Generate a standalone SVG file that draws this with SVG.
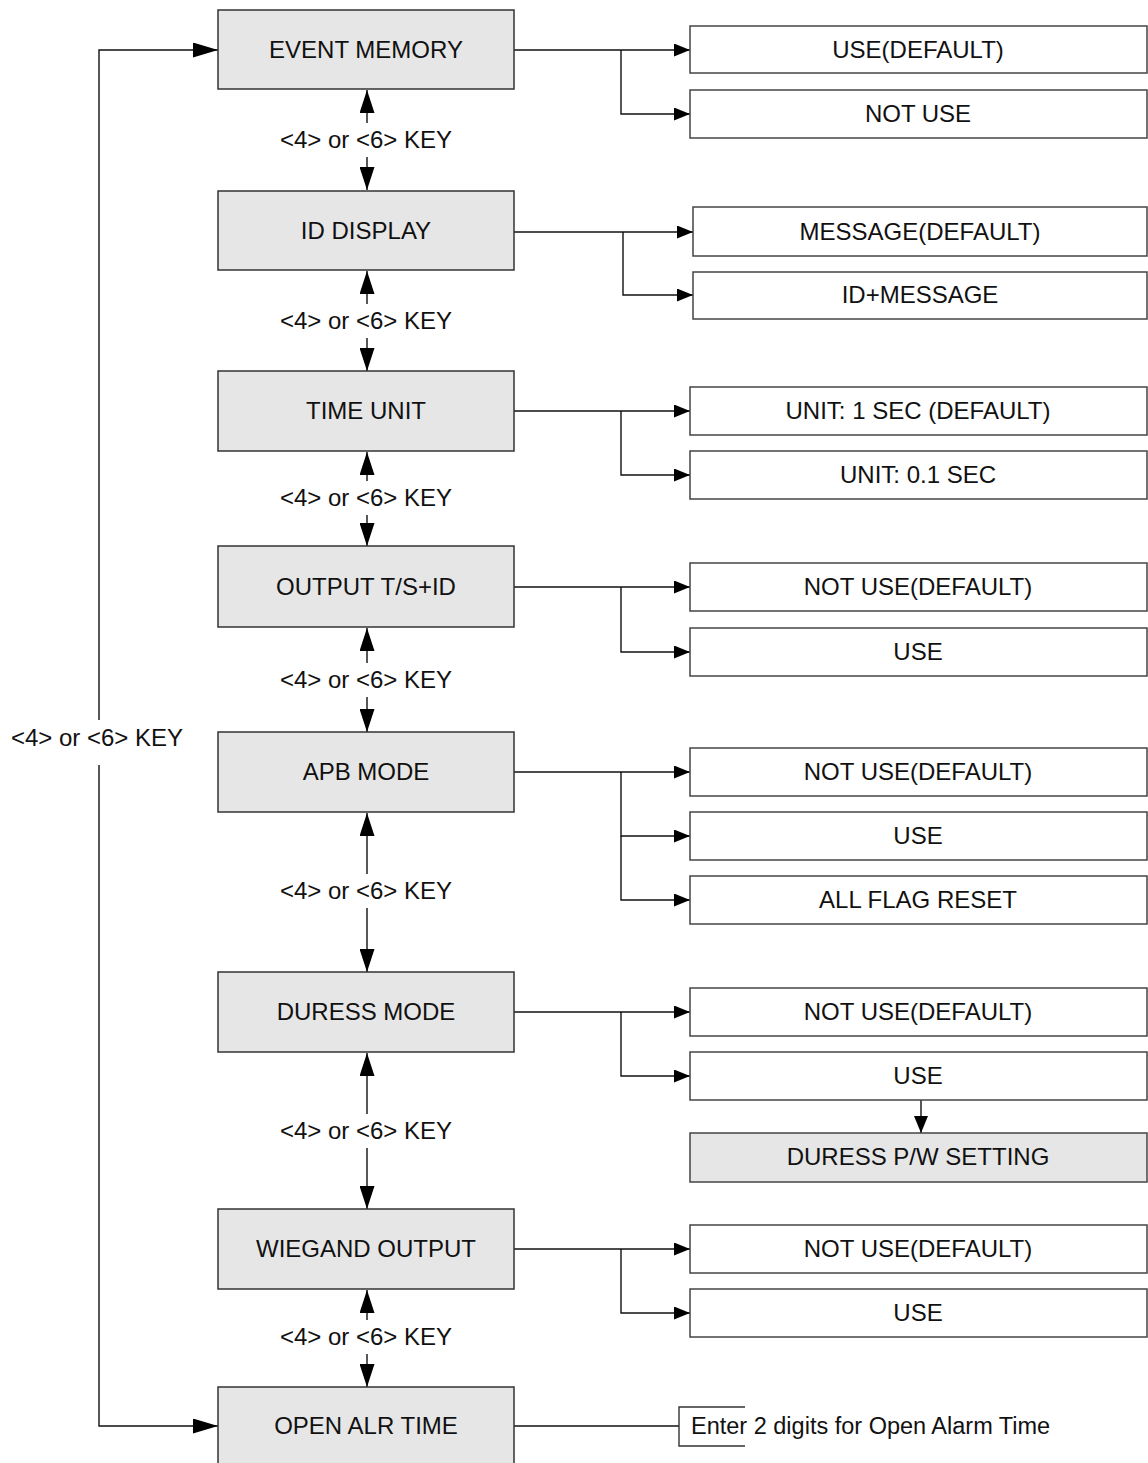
<svg xmlns="http://www.w3.org/2000/svg" width="1148" height="1463" viewBox="0 0 1148 1463">
<style>
text{font-family:"Liberation Sans",Arial,sans-serif;font-size:24px;fill:#111;text-anchor:middle}
.main{fill:#e6e6e6;stroke:#333;stroke-width:1.5}
.opt{fill:#fff;stroke:#444;stroke-width:1.5}
.gray{fill:#e6e6e6;stroke:#444;stroke-width:1.5}
.ln{fill:none;stroke:#111;stroke-width:1.4}
</style>
<defs>
<marker id="ah" viewBox="0 0 16 13" refX="16" refY="6.5" markerWidth="16" markerHeight="13" markerUnits="userSpaceOnUse" orient="auto"><path d="M0,0 L16,6.5 L0,13 Z" fill="#000"/></marker>
<marker id="ahv" viewBox="0 0 23 15" refX="23" refY="7.5" markerWidth="23" markerHeight="15" markerUnits="userSpaceOnUse" orient="auto"><path d="M0,0 L23,7.5 L0,15 Z" fill="#000"/></marker>
<marker id="ahs" viewBox="0 0 17 14" refX="17" refY="7" markerWidth="17" markerHeight="14" markerUnits="userSpaceOnUse" orient="auto"><path d="M0,0 L17,7 L0,14 Z" fill="#000"/></marker>
<marker id="ahl" viewBox="0 0 25 15" refX="25" refY="7.5" markerWidth="25" markerHeight="15" markerUnits="userSpaceOnUse" orient="auto"><path d="M0,0 L25,7.5 L0,15 Z" fill="#000"/></marker>
</defs>
<rect width="1148" height="1463" fill="#fff"/>

<g id="connectors">
<!-- loop on left -->
<path class="ln" d="M99,720 V50 H218" marker-end="url(#ahl)"/>
<path class="ln" d="M99,765 V1426 H218" marker-end="url(#ahl)"/>
<text x="97" y="746">&lt;4&gt; or &lt;6&gt; KEY</text>

<!-- vertical key arrows -->
<g>
<path class="ln" d="M367,123 V90" marker-end="url(#ahv)"/>
<path class="ln" d="M367,157 V190" marker-end="url(#ahv)"/>
<text x="366" y="148">&lt;4&gt; or &lt;6&gt; KEY</text>
<path class="ln" d="M367,304 V271" marker-end="url(#ahv)"/>
<path class="ln" d="M367,338 V371" marker-end="url(#ahv)"/>
<text x="366" y="329">&lt;4&gt; or &lt;6&gt; KEY</text>
<path class="ln" d="M367,481 V452" marker-end="url(#ahv)"/>
<path class="ln" d="M367,515 V546" marker-end="url(#ahv)"/>
<text x="366" y="506">&lt;4&gt; or &lt;6&gt; KEY</text>
<path class="ln" d="M367,663 V628" marker-end="url(#ahv)"/>
<path class="ln" d="M367,697 V732" marker-end="url(#ahv)"/>
<text x="366" y="688">&lt;4&gt; or &lt;6&gt; KEY</text>
<path class="ln" d="M367,874 V813" marker-end="url(#ahv)"/>
<path class="ln" d="M367,908 V972" marker-end="url(#ahv)"/>
<text x="366" y="899">&lt;4&gt; or &lt;6&gt; KEY</text>
<path class="ln" d="M367,1114 V1053" marker-end="url(#ahv)"/>
<path class="ln" d="M367,1148 V1209" marker-end="url(#ahv)"/>
<text x="366" y="1139">&lt;4&gt; or &lt;6&gt; KEY</text>
<path class="ln" d="M367,1320 V1290" marker-end="url(#ahv)"/>
<path class="ln" d="M367,1354 V1387" marker-end="url(#ahv)"/>
<text x="366" y="1345">&lt;4&gt; or &lt;6&gt; KEY</text>
</g>

<!-- branches to options -->
<path class="ln" d="M514,50 H690" marker-end="url(#ah)"/>
<path class="ln" d="M621,50 V114 H690" marker-end="url(#ah)"/>
<path class="ln" d="M514,232 H693" marker-end="url(#ah)"/>
<path class="ln" d="M623,232 V295 H693" marker-end="url(#ah)"/>
<path class="ln" d="M514,411 H690" marker-end="url(#ah)"/>
<path class="ln" d="M621,411 V475 H690" marker-end="url(#ah)"/>
<path class="ln" d="M514,587 H690" marker-end="url(#ah)"/>
<path class="ln" d="M621,587 V652 H690" marker-end="url(#ah)"/>
<path class="ln" d="M514,772 H690" marker-end="url(#ah)"/>
<path class="ln" d="M621,772 V836 H690" marker-end="url(#ah)"/>
<path class="ln" d="M621,836 V900 H690" marker-end="url(#ah)"/>
<path class="ln" d="M514,1012 H690" marker-end="url(#ah)"/>
<path class="ln" d="M621,1012 V1076 H690" marker-end="url(#ah)"/>
<path class="ln" d="M921,1100 V1133" marker-end="url(#ahs)"/>
<path class="ln" d="M514,1249 H690" marker-end="url(#ah)"/>
<path class="ln" d="M621,1249 V1313 H690" marker-end="url(#ah)"/>
<path class="ln" d="M514,1426 H679"/>
</g>

<g id="event-memory"><rect class="main" x="218" y="10" width="296" height="79"/><text x="366" y="58">EVENT MEMORY</text></g>
<g id="id-display"><rect class="main" x="218" y="191" width="296" height="79"/><text x="366" y="239">ID DISPLAY</text></g>
<g id="time-unit"><rect class="main" x="218" y="371" width="296" height="80"/><text x="366" y="419">TIME UNIT</text></g>
<g id="output-ts-id"><rect class="main" x="218" y="546" width="296" height="81"/><text x="366" y="595">OUTPUT T/S+ID</text></g>
<g id="apb-mode"><rect class="main" x="218" y="732" width="296" height="80"/><text x="366" y="780">APB MODE</text></g>
<g id="duress-mode"><rect class="main" x="218" y="972" width="296" height="80"/><text x="366" y="1020">DURESS MODE</text></g>
<g id="wiegand-output"><rect class="main" x="218" y="1209" width="296" height="80"/><text x="366" y="1257">WIEGAND OUTPUT</text></g>
<g id="open-alr-time"><rect class="main" x="218" y="1387" width="296" height="80"/><text x="366" y="1434">OPEN ALR TIME</text></g>

<g id="em-use"><rect class="opt" x="690" y="26" width="457" height="47"/><text x="918" y="58">USE(DEFAULT)</text></g>
<g id="em-notuse"><rect class="opt" x="690" y="90" width="457" height="48"/><text x="918" y="122">NOT USE</text></g>
<g id="id-message"><rect class="opt" x="693" y="207" width="454" height="49"/><text x="920" y="240">MESSAGE(DEFAULT)</text></g>
<g id="id-idmessage"><rect class="opt" x="693" y="272" width="454" height="47"/><text x="920" y="303">ID+MESSAGE</text></g>
<g id="tu-1sec"><rect class="opt" x="690" y="387" width="457" height="48"/><text x="918" y="419">UNIT: 1 SEC (DEFAULT)</text></g>
<g id="tu-01sec"><rect class="opt" x="690" y="451" width="457" height="48"/><text x="918" y="483">UNIT: 0.1 SEC</text></g>
<g id="out-notuse"><rect class="opt" x="690" y="563" width="457" height="48"/><text x="918" y="595">NOT USE(DEFAULT)</text></g>
<g id="out-use"><rect class="opt" x="690" y="628" width="457" height="48"/><text x="918" y="660">USE</text></g>
<g id="apb-notuse"><rect class="opt" x="690" y="748" width="457" height="48"/><text x="918" y="780">NOT USE(DEFAULT)</text></g>
<g id="apb-use"><rect class="opt" x="690" y="812" width="457" height="48"/><text x="918" y="844">USE</text></g>
<g id="apb-reset"><rect class="opt" x="690" y="876" width="457" height="48"/><text x="918" y="908">ALL FLAG RESET</text></g>
<g id="dur-notuse"><rect class="opt" x="690" y="988" width="457" height="48"/><text x="918" y="1020">NOT USE(DEFAULT)</text></g>
<g id="dur-use"><rect class="opt" x="690" y="1052" width="457" height="48"/><text x="918" y="1084">USE</text></g>
<g id="dur-pw"><rect class="gray" x="690" y="1133" width="457" height="49"/><text x="918" y="1165">DURESS P/W SETTING</text></g>
<g id="wie-notuse"><rect class="opt" x="690" y="1225" width="457" height="48"/><text x="918" y="1257">NOT USE(DEFAULT)</text></g>
<g id="wie-use"><rect class="opt" x="690" y="1289" width="457" height="48"/><text x="918" y="1321">USE</text></g>
<g id="open-alarm-note"><path class="ln" d="M745,1407 H679 V1446 H745" style="stroke:#333"/><text x="691" y="1434" style="text-anchor:start;font-size:23.5px">Enter 2 digits for Open Alarm Time</text></g>
</svg>
